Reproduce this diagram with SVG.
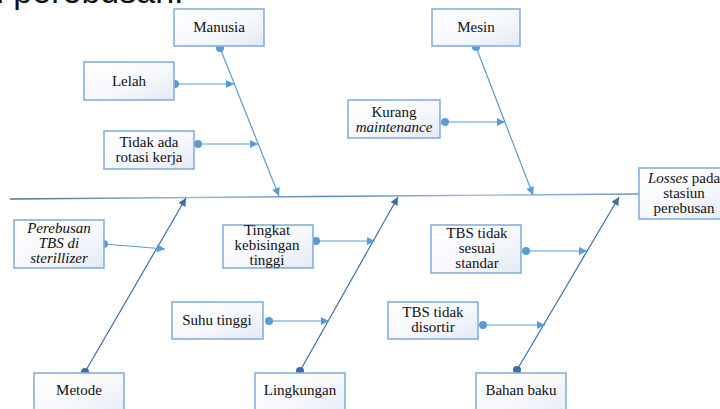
<svg xmlns="http://www.w3.org/2000/svg" width="720" height="409" viewBox="0 0 720 409">
<defs>
<linearGradient id="boxfill" x1="0" y1="0" x2="1" y2="1">
<stop offset="0" stop-color="#ffffff"/>
<stop offset="0.55" stop-color="#f6f8fc"/>
<stop offset="1" stop-color="#e4e9f4"/>
</linearGradient>
<linearGradient id="spinegrad" x1="10" y1="0" x2="640" y2="0" gradientUnits="userSpaceOnUse">
<stop offset="0" stop-color="#44729f"/>
<stop offset="0.3" stop-color="#9fbadb"/>
<stop offset="0.5" stop-color="#5c86b8"/>
<stop offset="0.75" stop-color="#a6c0e0"/>
<stop offset="1" stop-color="#6a93c6"/>
</linearGradient>
<marker id="arrL" viewBox="0 0 10 10" refX="10" refY="5" markerWidth="9" markerHeight="8" markerUnits="userSpaceOnUse" orient="auto">
<path d="M0,0 L10,5 L0,10 z" fill="#5b9bd5"/>
</marker>
<marker id="arrD" viewBox="0 0 10 10" refX="10" refY="5" markerWidth="9" markerHeight="8" markerUnits="userSpaceOnUse" orient="auto">
<path d="M0,0 L10,5 L0,10 z" fill="#3f6ea4"/>
</marker>
<marker id="dotL" viewBox="0 0 10 10" refX="5" refY="5" markerWidth="8" markerHeight="8" markerUnits="userSpaceOnUse">
<circle cx="5" cy="5" r="5" fill="#5b9bd5"/>
</marker>
<marker id="dotD" viewBox="0 0 10 10" refX="5" refY="5" markerWidth="8" markerHeight="8" markerUnits="userSpaceOnUse">
<circle cx="5" cy="5" r="5" fill="#3f6ea4"/>
</marker>
</defs>
<style>
.box{fill:url(#boxfill);stroke:#86b0dd;stroke-width:1.6}
.t{font-family:"Liberation Serif","Times New Roman",serif;font-size:15px;fill:#111;text-anchor:middle}
.i{font-style:italic}
.cl{fill:none;stroke:#5b9bd5;stroke-width:1.2;marker-start:url(#dotL);marker-end:url(#arrL)}
.cd{fill:none;stroke:#3f6ea4;stroke-width:1.2;marker-start:url(#dotD);marker-end:url(#arrD)}
</style>
<rect width="720" height="409" fill="#ffffff"/>
<text x="-15" y="3" font-family="Liberation Sans, Arial, sans-serif" font-size="34" fill="#111">n perebusan.</text>

<g id="connectors">
<line x1="10" y1="199" x2="640" y2="194" stroke="url(#spinegrad)" stroke-width="1.6"/>
<line class="cl" x1="220" y1="48" x2="279" y2="196"/>
<line class="cl" x1="476" y1="47" x2="533" y2="195"/>
<line class="cl" x1="175" y1="84" x2="234" y2="84"/>
<line class="cl" x1="198" y1="144" x2="258" y2="144"/>
<line class="cl" x1="445" y1="122" x2="505" y2="122"/>
<line class="cd" x1="85" y1="372" x2="186" y2="198"/>
<line class="cl" x1="104" y1="244" x2="165" y2="249"/>
<line class="cd" x1="300" y1="371" x2="398" y2="197"/>
<line class="cl" x1="316" y1="241" x2="375" y2="241"/>
<line class="cl" x1="269" y1="321" x2="329" y2="321"/>
<line class="cd" x1="517" y1="370" x2="619" y2="197"/>
<line class="cl" x1="526" y1="251" x2="587" y2="251"/>
<line class="cl" x1="483" y1="325" x2="545" y2="325"/>
</g>

<g id="manusia"><rect class="box" x="174" y="9" width="90" height="37"/><text class="t" x="219" y="32">Manusia</text></g>
<g id="mesin"><rect class="box" x="432" y="9" width="88" height="37"/><text class="t" x="476" y="32">Mesin</text></g>
<g id="lelah"><rect class="box" x="84" y="62" width="90" height="38"/><text class="t" x="129" y="86">Lelah</text></g>
<g id="rotasi"><rect class="box" x="104" y="131" width="90" height="38"/><text class="t" x="149" y="147">Tidak ada</text><text class="t" x="149" y="162">rotasi kerja</text></g>
<g id="maintenance"><rect class="box" x="348" y="100" width="92" height="38"/><text class="t" x="394" y="117">Kurang</text><text class="t i" x="394" y="132">maintenance</text></g>
<g id="losses"><rect class="box" x="639" y="168" width="90" height="51"/><text class="t" x="684" y="183"><tspan font-style="italic">Losses</tspan> pada</text><text class="t" x="684" y="198">stasiun</text><text class="t" x="684" y="213">perebusan</text></g>
<g id="perebusan"><rect class="box" x="14" y="220" width="90" height="48"/><text class="t i" x="59" y="233">Perebusan</text><text class="t i" x="59" y="248">TBS di</text><text class="t i" x="59" y="263">sterillizer</text></g>
<g id="kebisingan"><rect class="box" x="223" y="225" width="90" height="43"/><text class="t" x="267" y="235">Tingkat</text><text class="t" x="267" y="250">kebisingan</text><text class="t" x="267" y="265">tinggi</text></g>
<g id="suhu"><rect class="box" x="172" y="302" width="91" height="37"/><text class="t" x="217" y="325">Suhu tinggi</text></g>
<g id="standar"><rect class="box" x="431" y="225" width="90" height="48"/><text class="t" x="477" y="238">TBS tidak</text><text class="t" x="477" y="253">sesuai</text><text class="t" x="477" y="268">standar</text></g>
<g id="disortir"><rect class="box" x="388" y="302" width="90" height="37"/><text class="t" x="433" y="317">TBS tidak</text><text class="t" x="433" y="332">disortir</text></g>
<g id="metode"><rect class="box" x="34" y="373" width="90" height="45"/><text class="t" x="79" y="395">Metode</text></g>
<g id="lingkungan"><rect class="box" x="255" y="373" width="90" height="45"/><text class="t" x="300" y="395">Lingkungan</text></g>
<g id="bahanbaku"><rect class="box" x="476" y="373" width="90" height="45"/><text class="t" x="521" y="395">Bahan baku</text></g>
</svg>
